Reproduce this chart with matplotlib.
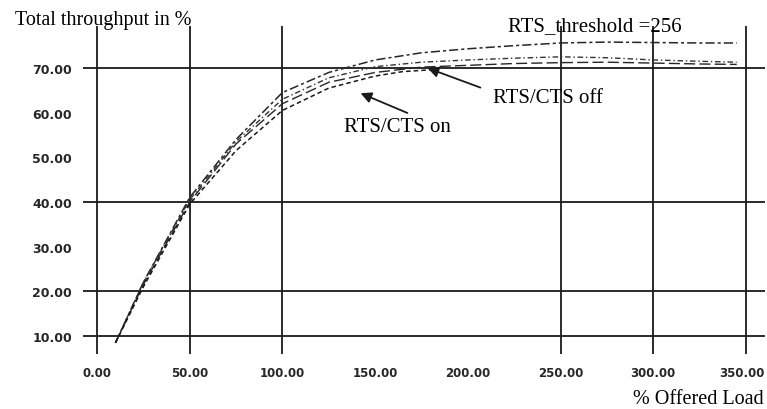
import matplotlib
matplotlib.use("Agg")
import matplotlib.pyplot as plt
import matplotlib.transforms as mtransforms

# offered load (%) and total throughput (%)
load = [10, 25, 50, 75, 100, 125, 150, 175, 200, 225, 250, 275, 300, 325, 345]
thr_top = [8.5, 22, 41, 54, 64.5, 69.0, 71.8, 73.4, 74.3, 75.0, 75.6, 75.8, 75.7, 75.6, 75.6]
thr_mid = [8.5, 22, 40.5, 53.5, 63.0, 67.8, 70.3, 71.3, 71.8, 72.2, 72.5, 72.3, 71.8, 71.5, 71.3]
thr_off = [8.5, 21.5, 40, 53, 62.0, 66.8, 69.0, 70.2, 70.6, 71.0, 71.2, 71.3, 71.1, 70.9, 70.8]
load_on = [10, 25, 50, 75, 100, 125, 150, 165, 180]
thr_on = [8.5, 21, 39.5, 51.5, 60.5, 65.5, 68.2, 69.2, 69.6]

xticks = [0, 50, 100, 150, 200, 250, 300, 350]
yticks = [10, 20, 30, 40, 50, 60, 70]
xgrid = [0, 50, 100, 250, 300, 350]
ygrid = [10, 20, 40, 70]

serif = "Liberation Serif"

fig = plt.figure(figsize=(7.67, 4.10), dpi=100)
ax = fig.add_axes([83 / 767, 1 - 355 / 410, (764.5 - 83) / 767, 328 / 410])
ax.set_xlim(-7.5, 360)
ax.set_ylim(6, 79.4)

for g in xgrid:
    ax.axvline(g, color="0.1", lw=1.3, zorder=1)
for g in ygrid:
    ax.axhline(g, color="0.1", lw=1.3, zorder=1)

ax.plot(load, thr_top, color="0.15", lw=1.1, ls=(0, (6, 2, 2, 2)), zorder=3)
ax.plot(load, thr_mid, color="0.2", lw=1.0, ls=(0, (4, 2, 1, 2)), zorder=3)
ax.plot(load, thr_off, color="0.15", lw=1.0, ls=(0, (8, 3)), zorder=3)
ax.plot(load_on, thr_on, color="0.1", lw=1.1, ls=(0, (3, 2)), zorder=3)

for s in ax.spines.values():
    s.set_visible(False)
ax.set_xticks(xticks)
ax.set_xticklabels([f"{v:.2f}" for v in xticks])
ax.set_yticks(yticks)
ax.set_yticklabels([f"{v:.2f}" for v in yticks])
ax.tick_params(axis="y", length=0, labelsize=9, pad=8)
ax.tick_params(axis="x", length=0, labelsize=8.5, pad=9)
for lab in ax.get_xticklabels() + ax.get_yticklabels():
    lab.set_fontweight("bold")
    lab.set_color("0.15")
# keep the last x label inside the figure
last = ax.get_xticklabels()[-1]
last.set_transform(last.get_transform() + mtransforms.ScaledTranslation(-4 / 100, 0, fig.dpi_scale_trans))

ax.annotate("", xy=(176.9, 70.2), xytext=(208.2, 65.4),
            arrowprops=dict(arrowstyle="-|>", color="0.1", lw=1.3, mutation_scale=16))
ax.text(213.5, 63.3, "RTS/CTS off", family=serif, fontsize=15, va="center", ha="left")
ax.annotate("", xy=(140.8, 64.6), xytext=(168.8, 59.7),
            arrowprops=dict(arrowstyle="-|>", color="0.1", lw=1.3, mutation_scale=16))
ax.text(133.5, 56.8, "RTS/CTS on", family=serif, fontsize=15, va="center", ha="left")
ax.text(221.7, 79.6, "RTS_threshold =256", family=serif, fontsize=15,
        va="center", ha="left", clip_on=False)

fig.text(15 / 767, 1 - 20 / 410, "Total throughput in %", family=serif,
         fontsize=14.5, va="center", ha="left")
fig.text(764 / 767, 1 - 400 / 410, "% Offered Load", family=serif,
         fontsize=14.5, va="center", ha="right")

fig.savefig("out.png", dpi=100)
